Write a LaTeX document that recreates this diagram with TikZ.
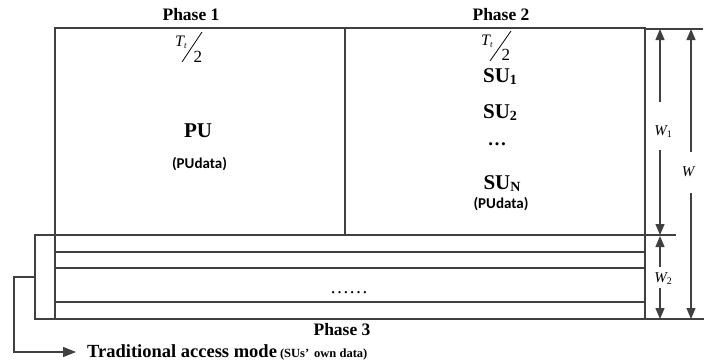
\documentclass[tikz,border=0pt]{standalone}
\usepackage{fontspec}
\setmainfont{Liberation Serif}
\newfontfamily\calfont{Carlito}
\usetikzlibrary{arrows.meta}
\definecolor{lc}{HTML}{404040}
\begin{document}
\begin{tikzpicture}[x=1pt,y=-1pt,
  ln/.style={draw=lc, line width=1.3pt},
  arw/.style={ln, -{Triangle[length=11pt,width=9pt]}},
  ph/.style={font=\bfseries\fontsize{17.5}{20}\selectfont, anchor=base, inner sep=0},
  big/.style={font=\bfseries\fontsize{21}{24}\selectfont, anchor=base, inner sep=0},
  dat/.style={font=\calfont\bfseries\fontsize{15}{17}\selectfont, anchor=base, inner sep=0},
  wl/.style={font=\itshape\fontsize{15}{17}\selectfont, inner sep=0},
  tt/.style={font=\itshape\fontsize{16}{18}\selectfont, anchor=base west, inner sep=0},
  two/.style={font=\fontsize{17}{18}\selectfont, anchor=base west, inner sep=0},
  sl/.style={draw=black, line width=0.8pt}]
\useasboundingbox (0,0) rectangle (704,362);
% frame
\draw[ln] (55,28) rectangle (645,319);
\draw[ln] (345,28) -- (345,235);
\draw[ln] (55,235) -- (676,235);
\draw[ln] (55,252) -- (645,252);
\draw[ln] (55,268) -- (645,268);
\draw[ln] (55,302) -- (645,302);
\draw[ln] (645,319) -- (704,319);
\draw[ln] (645,29) -- (703,29);
% phase labels
\node[ph] (p1) at (191,20) {Phase 1};
\node[ph] (p2) at (501,20) {Phase 2};
\node[ph] (p3) at (342,335) {Phase 3};
% T/2 fractions
\node[tt] (t1) at (175,46) {T\raisebox{-2.5pt}{\fontsize{9}{9}\selectfont t}};
\draw[sl] (182,62) -- (202,32);
\node[two] (d1) at (193.5,62) {2};
\node[tt] (t2) at (481,45) {T\raisebox{-2.5pt}{\fontsize{9}{9}\selectfont t}};
\draw[sl] (490,61) -- (511,31);
\node[two] (d2) at (501.5,60) {2};
% phase 1 content
\node[big] (pu) at (198,137) {PU};
\node[dat] (pud1) at (199.5,168) {(PUdata)};
% phase 2 content
\node[big] (su1) at (500,82) {SU\raisebox{-2.5pt}{\fontsize{14}{14}\selectfont 1}};
\node[big] (su2) at (500,118) {SU\raisebox{-2.5pt}{\fontsize{14}{14}\selectfont 2}};
\node[font=\bfseries\fontsize{19}{20}\selectfont, anchor=base, inner sep=0] (dots) at (497,145) {…};
\node[big] (sun) at (502,189) {SU\raisebox{-2pt}{\fontsize{14}{14}\selectfont N}};
\node[dat] (pud2) at (501,208) {(PUdata)};
% phase 3 dots
\node[font=\fontsize{19}{20}\selectfont, anchor=base, inner sep=0] (dots3) at (349,293) {……};
% dimension arrows
\node[wl] (w1) at (663,132) {W\raisebox{-2pt}{\upshape\fontsize{10}{10}\selectfont 1}};
\node[wl] (w) at (688,172) {W};
\node[wl] (w2) at (663,279) {W\raisebox{-2pt}{\upshape\fontsize{10}{10}\selectfont 2}};
\coordinate (w1a) at (660,102);
\coordinate (w1b) at (660,150);
\coordinate (w1t) at (660,29);
\coordinate (w1d) at (660,235);
\draw[arw] (w1a) -- (w1t);
\draw[arw] (w1b) -- (w1d);
\coordinate (wa) at (691,152);
\coordinate (wb) at (691,193);
\coordinate (wt) at (691,29);
\coordinate (wd) at (691,319);
\draw[arw] (wa) -- (wt);
\draw[arw] (wb) -- (wd);
\coordinate (w2a) at (660,267);
\coordinate (w2b) at (660,288);
\coordinate (w2t) at (660,236);
\coordinate (w2d) at (660,319);
\draw[arw] (w2a) -- (w2t);
\draw[arw] (w2b) -- (w2d);
% left bracket and arrow
\coordinate (b1) at (55,235);
\coordinate (b2) at (35,235);
\coordinate (b3) at (35,319);
\coordinate (b4) at (65,319);
\draw[ln] (b1) -- (b2) -- (b3) -- (b4);
\coordinate (m1) at (35,277);
\coordinate (m2) at (14,277);
\coordinate (m3) at (14,352);
\node[font=\bfseries\fontsize{18.5}{20}\selectfont, anchor=base west, inner sep=0] (trad) at (87,357) {Traditional access mode\,{\fontsize{12.5}{14}\selectfont (SUs’\hspace{5pt}own data)}};
\coordinate (m4) at (76,352);
\draw[arw, -{Triangle[length=13pt,width=10pt]}] (m1) -- (m2) -- (m3) -- (m4);
\end{tikzpicture}
\end{document}
